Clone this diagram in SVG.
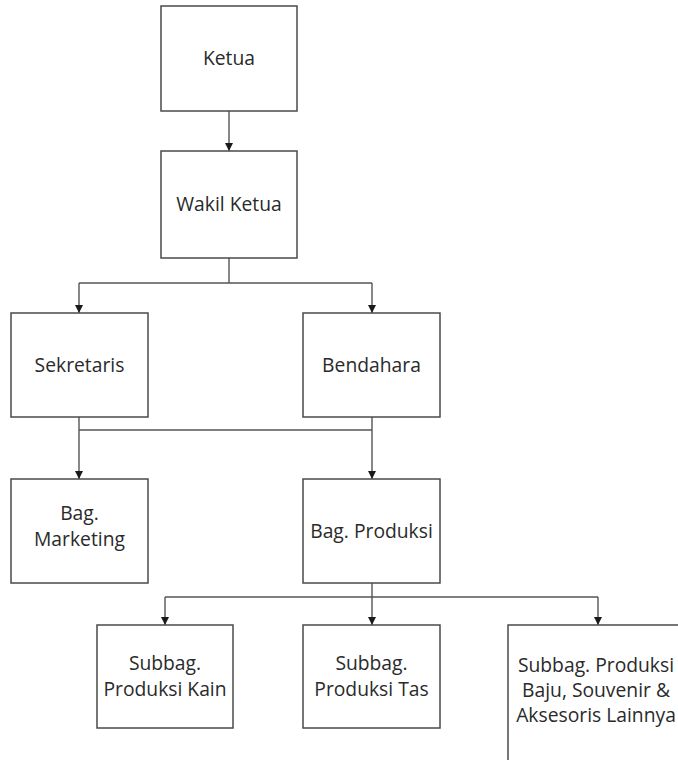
<svg xmlns="http://www.w3.org/2000/svg" width="678" height="760" viewBox="0 0 678 760">
  <defs>
    <marker id="arrow" viewBox="0 0 10 10" refX="10" refY="5" markerWidth="8" markerHeight="8" markerUnits="userSpaceOnUse" orient="auto">
      <path d="M0,0 L10,5 L0,10 Z" fill="#1a1a1a"/>
    </marker>
  </defs>
  <style>
    .box { fill: #ffffff; stroke: #4a4a4a; stroke-width: 1.5; }
    .lbl { font-family: "Open Sans", "Liberation Sans", sans-serif; font-size: 19.3px; fill: #2a2a2a; text-anchor: middle; }
    .link { fill: none; stroke: #555555; stroke-width: 1.4; }
    .arr { marker-end: url(#arrow); }
  </style>
  <rect width="678" height="760" fill="#ffffff"/>

  <g id="connectors">
    <path class="link arr" d="M229,111 V151"/>
    <path class="link" d="M229,258 V283 M79,283 H372"/>
    <path class="link arr" d="M79,283 V313"/>
    <path class="link arr" d="M372,283 V313"/>
    <path class="link" d="M79,417 V430 M372,417 V430 M79,430 H372"/>
    <path class="link arr" d="M79,430 V479"/>
    <path class="link arr" d="M372,430 V479"/>
    <path class="link" d="M372,583 V597 M165,597 H598"/>
    <path class="link arr" d="M165,597 V625"/>
    <path class="link arr" d="M372,597 V625"/>
    <path class="link arr" d="M598,597 V625"/>
  </g>

  <g id="ketua">
    <rect class="box" x="161" y="6" width="136" height="105"/>
    <text class="lbl" x="229" y="65">Ketua</text>
  </g>
  <g id="wakil-ketua">
    <rect class="box" x="161" y="151" width="136" height="107"/>
    <text class="lbl" x="229" y="211">Wakil Ketua</text>
  </g>
  <g id="sekretaris">
    <rect class="box" x="11" y="313" width="137" height="104"/>
    <text class="lbl" x="79.5" y="372">Sekretaris</text>
  </g>
  <g id="bendahara">
    <rect class="box" x="303" y="313" width="137" height="104"/>
    <text class="lbl" x="371.5" y="372">Bendahara</text>
  </g>
  <g id="bag-marketing">
    <rect class="box" x="11" y="479" width="137" height="104"/>
    <text class="lbl" x="79.5" y="520">Bag.</text>
    <text class="lbl" x="79.5" y="546">Marketing</text>
  </g>
  <g id="bag-produksi">
    <rect class="box" x="303" y="479" width="137" height="104"/>
    <text class="lbl" x="371.5" y="538">Bag. Produksi</text>
  </g>
  <g id="subbag-kain">
    <rect class="box" x="97" y="625" width="136" height="103"/>
    <text class="lbl" x="165" y="670">Subbag.</text>
    <text class="lbl" x="165" y="696">Produksi Kain</text>
  </g>
  <g id="subbag-tas">
    <rect class="box" x="303" y="625" width="137" height="103"/>
    <text class="lbl" x="371.5" y="670">Subbag.</text>
    <text class="lbl" x="371.5" y="696">Produksi Tas</text>
  </g>
  <g id="subbag-baju">
    <rect class="box" x="508" y="625" width="200" height="160"/>
    <text class="lbl" x="596" y="672">Subbag. Produksi</text>
    <text class="lbl" x="596" y="697">Baju, Souvenir &amp;</text>
    <text class="lbl" x="596" y="722">Aksesoris Lainnya</text>
  </g>
</svg>
